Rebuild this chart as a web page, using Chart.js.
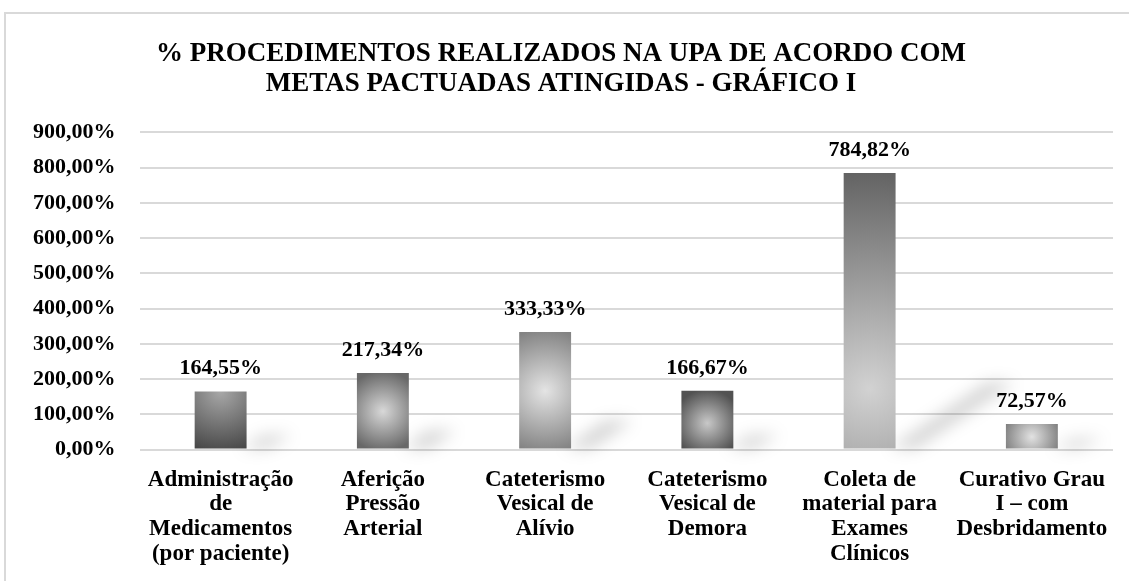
<!DOCTYPE html>
<html>
<head>
<meta charset="utf-8">
<script src="https://cdn.jsdelivr.net/npm/chart.js@4.4.1/dist/chart.umd.min.js"></script>
<style>
  html, body { margin: 0; padding: 0; background: #ffffff; }
  #wrap { position: absolute; left: 0; top: 0; width: 1129px; height: 581px; }
</style>
</head>
<body>
<div id="wrap"><canvas id="c" width="1129" height="581"></canvas></div>
<script>
// ---- data ----
const categories = [
  ["Administração", "de", "Medicamentos", "(por paciente)"],
  ["Aferição", "Pressão", "Arterial"],
  ["Cateterismo", "Vesical de", "Alívio"],
  ["Cateterismo", "Vesical de", "Demora"],
  ["Coleta de", "material para", "Exames", "Clínicos"],
  ["Curativo Grau", "I – com", "Desbridamento"]
];
const values = [164.55, 217.34, 333.33, 166.67, 784.82, 72.57];
const valueLabels = ["164,55%", "217,34%", "333,33%", "166,67%", "784,82%", "72,57%"];
const titleLines = ["% PROCEDIMENTOS REALIZADOS NA UPA DE ACORDO COM", "METAS PACTUADAS ATINGIDAS - GRÁFICO I"];
const yMin = 0, yMax = 900, yStep = 100;

// ---- styles (separate from data) ----
const gradCenter = ["#a8a8a8", "#d8d8d8", "#e4e4e4", "#c8c8c8", "#d2d2d2", "#e2e2e2"];
const gradEdge   = ["#484848", "#686868", "#838383", "#525252", "#5e5e5e", "#7a7a7a"];
const gradFocus  = [0.0, 0.5, 0.5, 0.55, 0.78, 0.5];

const SERIF = "'Liberation Serif', 'Times New Roman', serif";

function barFill(ctx) {
  const chart = ctx.chart;
  const i = ctx.dataIndex;
  if (!chart.chartArea || i === undefined) return gradEdge[i] || "#777";
  const xs = chart.scales.x, ys = chart.scales.y;
  const cx = xs.getPixelForValue(i);
  const top = ys.getPixelForValue(values[i]);
  const bottom = ys.getPixelForValue(0);
  const h = bottom - top;
  const cy = top + h * gradFocus[i];
  const r = Math.max(30, h * Math.max(gradFocus[i], 1 - gradFocus[i]) * 1.05);
  const g = chart.ctx.createRadialGradient(cx, cy, 0, cx, cy, r);
  g.addColorStop(0, gradCenter[i]);
  g.addColorStop(1, gradEdge[i]);
  return g;
}

const framePlugin = {
  id: 'frame',
  beforeDraw(chart) {
    const c = chart.ctx;
    c.save();
    c.fillStyle = '#ffffff';
    c.fillRect(0, 0, chart.width, chart.height);
    c.strokeStyle = '#d9d9d9';
    c.lineWidth = 2;
    c.beginPath();
    c.moveTo(5, chart.height);
    c.lineTo(5, 13);
    c.lineTo(chart.width, 13);
    c.stroke();
    c.restore();
  }
};

// soft reflection/shadow beside each bar base, derived from the bar elements
const shadowPlugin = {
  id: 'barShadow',
  beforeDatasetsDraw(chart) {
    const c = chart.ctx;
    const meta = chart.getDatasetMeta(0);
    c.save();
    c.filter = 'blur(8px)';
    c.fillStyle = 'rgba(0,0,0,0.17)';
    meta.data.forEach(bar => {
      const w = bar.width;
      const h = bar.base - bar.y;
      const dx = Math.max(26, h * 0.36);
      const dy = Math.max(10, h * 0.24);
      const x0 = bar.x + w / 2 - 6;
      c.beginPath();
      c.moveTo(x0, bar.base);
      c.lineTo(x0 + 26, bar.base);
      c.lineTo(x0 + 26 + dx, bar.base - dy);
      c.lineTo(x0 + dx - 2, bar.base - dy);
      c.closePath();
      c.fill();
    });
    c.restore();
  }
};

const valueLabelPlugin = {
  id: 'valueLabels',
  afterDatasetsDraw(chart) {
    const c = chart.ctx;
    const meta = chart.getDatasetMeta(0);
    c.save();
    c.font = "bold 22px " + SERIF;
    c.fillStyle = '#000000';
    c.textAlign = 'center';
    c.textBaseline = 'bottom';
    meta.data.forEach((bar, i) => {
      c.fillText(valueLabels[i], bar.x, bar.y - 12);
    });
    c.restore();
  }
};

new Chart(document.getElementById('c'), {
  type: 'bar',
  data: {
    labels: categories,
    datasets: [{
      data: values,
      backgroundColor: barFill,
      borderWidth: 0,
      barPercentage: 0.32,
      categoryPercentage: 1.0
    }]
  },
  options: {
    responsive: false,
    animation: false,
    devicePixelRatio: 1,
    layout: { padding: { top: 14, left: 9, right: 16, bottom: -3 } },
    plugins: {
      legend: { display: false },
      tooltip: { enabled: false },
      title: {
        display: true,
        text: titleLines,
        color: '#000000',
        font: { family: SERIF, size: 27, weight: 'bold', lineHeight: 1.12 },
        padding: { top: 25, bottom: 33 }
      }
    },
    scales: {
      x: {
        grid: { display: false, drawTicks: false },
        border: { display: false },
        ticks: {
          color: '#000000',
          font: { family: SERIF, size: 23, weight: 'bold', lineHeight: 1.07 },
          autoSkip: false,
          maxRotation: 0,
          minRotation: 0,
          padding: 18
        }
      },
      y: {
        min: yMin,
        max: yMax,
        grid: { color: '#d9d9d9', lineWidth: 2, drawTicks: false },
        border: { display: false },
        ticks: {
          stepSize: yStep,
          color: '#000000',
          font: { family: SERIF, size: 22, weight: 'bold' },
          padding: 24,
          callback: v => v.toFixed(2).replace('.', ',') + '%'
        }
      }
    }
  },
  plugins: [framePlugin, shadowPlugin, valueLabelPlugin]
});
</script>
</body>
</html>
